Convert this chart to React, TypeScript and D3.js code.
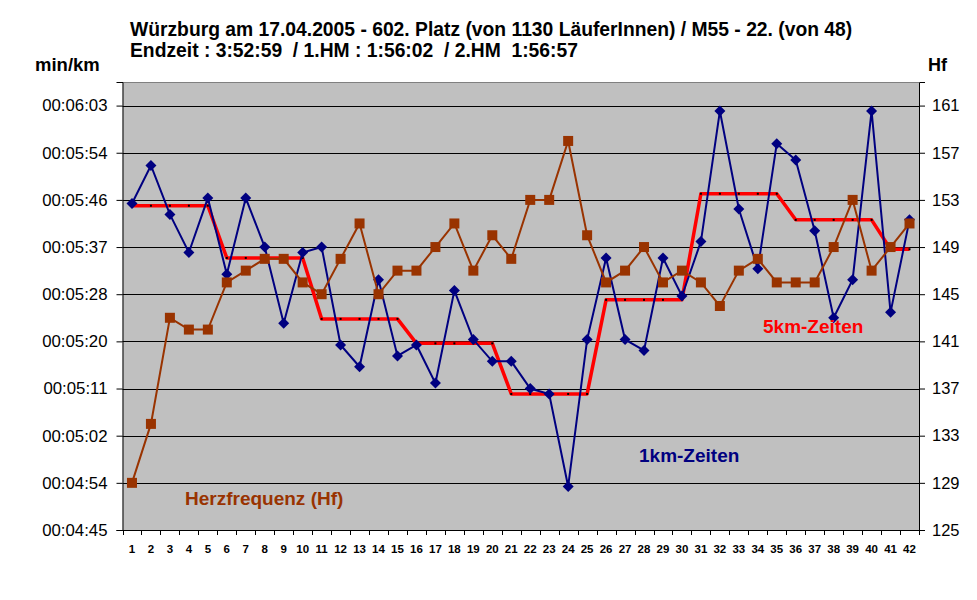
import { useEffect, useRef } from "react";
import * as d3 from "d3";

// km 1..42
const km = d3.range(1, 43).map(String);

// 1km split times in seconds per km
const pace1km = [
  345, 352, 343, 336, 346, 332, 346, 337, 323, 336,
  337, 319, 315, 331, 317, 319, 312, 329, 320, 316,
  316, 311, 310, 293, 320, 335, 320, 318, 335, 328,
  338, 362, 344, 333, 356, 353, 340, 324, 331, 362,
  325, 342,
];

// 5km average split, repeated per km
const pace5km = [
  344.6, 344.6, 344.6, 344.6, 344.6, 335, 335, 335, 335, 335,
  323.8, 323.8, 323.8, 323.8, 323.8, 319.3, 319.3, 319.3, 319.3, 319.3,
  310, 310, 310, 310, 310, 327.3, 327.3, 327.3, 327.3, 327.3,
  346.8, 346.8, 346.8, 346.8, 346.8, 342, 342, 342, 342, 342,
  336.6, 336.6,
];

// heart rate
const heartRate = [
  129, 134, 143, 142, 142, 146, 147, 148, 148, 146,
  145, 148, 151, 145, 147, 147, 149, 151, 147, 150,
  148, 153, 153, 158, 150, 146, 147, 149, 146, 147,
  146, 144, 147, 148, 146, 146, 146, 149, 153, 147,
  149, 151,
];

const leftTickLabels = [
  "00:04:45", "00:04:54", "00:05:02", "00:05:11", "00:05:20",
  "00:05:28", "00:05:37", "00:05:46", "00:05:54", "00:06:03",
];
const rightTicks = [125, 129, 133, 137, 141, 145, 149, 153, 157, 161];

const title1 = "Würzburg am 17.04.2005 - 602. Platz (von 1130 LäuferInnen) / M55 - 22. (von 48)";
const title2 = "Endzeit : 3:52:59  / 1.HM : 1:56:02  / 2.HM  1:56:57";

const FONT = "'Liberation Sans', Arial, sans-serif";
const BLUE = "#000080";
const BROWN = "#993300";
const RED = "#ff0000";

export default function App() {
  const svgRef = useRef<SVGSVGElement>(null);

  useEffect(() => {
    const svg = d3.select(svgRef.current);
    svg.selectAll("*").remove();

    const L = 122.5, R = 919, T = 82, B = 530;

    const x = d3.scaleBand().domain(km).range([L, R]);
    const cx = (i: number) => x(km[i])! + x.bandwidth() / 2;

    // left axis: 9.5 steps of 78/9 s starting at 4:45
    const step = 78 / 9;
    const yL = d3.scaleLinear().domain([285, 285 + 9.5 * step]).range([B, T]);
    const yR = d3.scaleLinear().domain([125, 163]).range([B, T]);
    const leftTicks = d3.range(10).map((i) => 285 + i * step);

    // plot background
    svg.append("rect")
      .attr("x", L).attr("y", T)
      .attr("width", R - L).attr("height", B - T)
      .attr("fill", "#c0c0c0");
    svg.append("line")
      .attr("x1", L).attr("x2", R).attr("y1", T + 0.5).attr("y2", T + 0.5)
      .attr("stroke", "#808080").attr("stroke-width", 1);

    // gridlines
    svg.append("g").selectAll("line")
      .data(rightTicks.slice(1))
      .join("line")
      .attr("x1", L).attr("x2", R)
      .attr("y1", (d) => Math.round(yR(d)) + 0.5)
      .attr("y2", (d) => Math.round(yR(d)) + 0.5)
      .attr("stroke", "#000").attr("stroke-width", 1);

    // left axis
    const gl = svg.append("g").attr("transform", `translate(${L},0)`)
      .call(d3.axisLeft(yL).tickValues(leftTicks).tickSize(6).tickPadding(9)
        .tickFormat((_, i) => leftTickLabels[i]));
    gl.select(".domain").attr("stroke", "#000");
    gl.selectAll(".tick line").attr("stroke", "#000");
    gl.selectAll(".tick text").attr("fill", "#000").attr("font-size", 16.8).attr("font-family", FONT);

    // right axis
    const gr = svg.append("g").attr("transform", `translate(${R},0)`)
      .call(d3.axisRight(yR).tickValues(rightTicks).tickSize(6).tickPadding(7));
    gr.select(".domain").attr("stroke", "#000");
    gr.selectAll(".tick line").attr("stroke", "#000");
    gr.selectAll(".tick text").attr("fill", "#000").attr("font-size", 16.5).attr("font-family", FONT);

    // bottom axis
    svg.append("line")
      .attr("x1", L).attr("x2", R).attr("y1", B + 0.5).attr("y2", B + 0.5)
      .attr("stroke", "#000");
    svg.append("g").selectAll("line")
      .data([...km.map((k) => x(k)!), R])
      .join("line")
      .attr("x1", (d) => Math.round(d) + 0.5).attr("x2", (d) => Math.round(d) + 0.5)
      .attr("y1", B).attr("y2", B + 5)
      .attr("stroke", "#000");
    svg.append("g").selectAll("text")
      .data(km)
      .join("text")
      .attr("x", (_, i) => cx(i))
      .attr("y", 553)
      .attr("text-anchor", "middle")
      .attr("font-size", 11.5)
      .attr("font-weight", "bold")
      .attr("font-family", FONT)
      .text((d) => d);

    // 5km line
    const line5 = d3.line<number>().x((_, i) => cx(i)).y((d) => yL(d));
    svg.append("path")
      .datum(pace5km)
      .attr("d", line5)
      .attr("fill", "none")
      .attr("stroke", RED)
      .attr("stroke-width", 3.5)
      .attr("stroke-linejoin", "round");
    svg.append("g").selectAll("rect")
      .data(pace5km)
      .join("rect")
      .attr("x", (_, i) => cx(i) - 1)
      .attr("y", (d) => yL(d) - 1)
      .attr("width", 2).attr("height", 2)
      .attr("fill", "#000");

    // 1km line
    const line1 = d3.line<number>().x((_, i) => cx(i)).y((d) => yL(d));
    svg.append("path")
      .datum(pace1km)
      .attr("d", line1)
      .attr("fill", "none")
      .attr("stroke", BLUE)
      .attr("stroke-width", 2);
    svg.append("g").selectAll("path")
      .data(pace1km)
      .join("path")
      .attr("d", (d, i) => {
        const px = cx(i), py = yL(d), r = 5.5;
        return `M${px},${py - r}L${px + r},${py}L${px},${py + r}L${px - r},${py}Z`;
      })
      .attr("fill", BLUE);

    // heart rate
    const lineHf = d3.line<number>().x((_, i) => cx(i)).y((d) => yR(d));
    svg.append("path")
      .datum(heartRate)
      .attr("d", lineHf)
      .attr("fill", "none")
      .attr("stroke", BROWN)
      .attr("stroke-width", 2);
    svg.append("g").selectAll("rect")
      .data(heartRate)
      .join("rect")
      .attr("x", (_, i) => cx(i) - 5)
      .attr("y", (d) => yR(d) - 5)
      .attr("width", 10).attr("height", 10)
      .attr("fill", BROWN);

    // series labels
    const lbl = (tx: number, ty: number, t: string, c: string) =>
      svg.append("text")
        .attr("x", tx).attr("y", ty)
        .attr("font-size", 19).attr("font-weight", "bold")
        .attr("font-family", FONT).attr("fill", c)
        .text(t);
    lbl(185, 505, "Herzfrequenz (Hf)", BROWN);
    lbl(639, 462, "1km-Zeiten", BLUE);
    lbl(763, 333, "5km-Zeiten", RED);

    // titles
    const ttl = (tx: number, ty: number, t: string, fs: number) =>
      svg.append("text")
        .attr("x", tx).attr("y", ty)
        .attr("font-size", fs).attr("font-weight", "bold")
        .attr("font-family", FONT).attr("fill", "#000")
        .attr("xml:space", "preserve")
        .style("white-space", "pre")
        .text(t);
    ttl(130, 36, title1, 19.3);
    ttl(130, 57, title2, 19.3);
    ttl(35, 71, "min/km", 18.5);
    ttl(928, 71, "Hf", 18);
  }, []);

  return (
    <svg
      ref={svgRef}
      width={977}
      height={600}
      style={{ position: "absolute", left: 0, top: 0, background: "#fff" }}
    />
  );
}
